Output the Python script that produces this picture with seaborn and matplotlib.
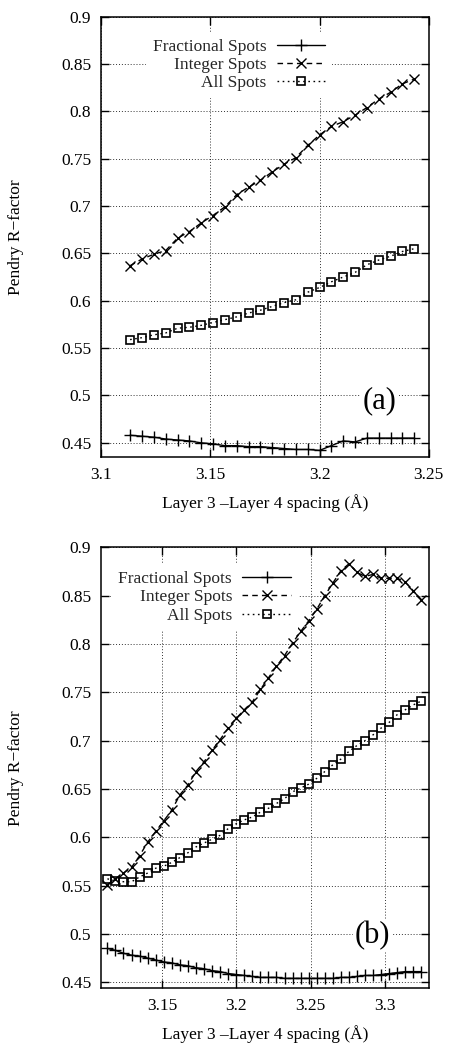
import numpy as np
import pandas as pd
import matplotlib
matplotlib.use('Agg')
import matplotlib.pyplot as plt
import seaborn as sns

# panel (a) data
x_a = [3.1133, 3.1187, 3.1241, 3.1296, 3.1350, 3.1404, 3.1458, 3.1512, 3.1566,
       3.1621, 3.1675, 3.1729, 3.1783, 3.1837, 3.1891, 3.1946, 3.2000, 3.2054,
       3.2108, 3.2163, 3.2217, 3.2271, 3.2325, 3.2379, 3.2434]
frac_a = [0.458, 0.457, 0.456, 0.454, 0.453, 0.452, 0.450, 0.449, 0.447, 0.447,
          0.446, 0.446, 0.445, 0.444, 0.443, 0.443, 0.442, 0.447, 0.452, 0.451,
          0.455, 0.455, 0.455, 0.455, 0.455]
int_a = [0.637, 0.644, 0.649, 0.653, 0.666, 0.673, 0.682, 0.690, 0.699, 0.712,
         0.720, 0.727, 0.736, 0.744, 0.751, 0.764, 0.775, 0.784, 0.789, 0.796,
         0.804, 0.813, 0.820, 0.829, 0.834]
all_a = [0.559, 0.561, 0.564, 0.566, 0.571, 0.572, 0.574, 0.577, 0.580, 0.583,
         0.587, 0.590, 0.594, 0.598, 0.601, 0.609, 0.614, 0.620, 0.625, 0.630,
         0.638, 0.643, 0.647, 0.652, 0.655]

# panel (b) data
x_b = [3.1133, 3.1187, 3.1241, 3.1296, 3.1350, 3.1404, 3.1458, 3.1512, 3.1566,
       3.1621, 3.1675, 3.1729, 3.1783, 3.1837, 3.1891, 3.1946, 3.2000, 3.2054,
       3.2108, 3.2163, 3.2217, 3.2271, 3.2325, 3.2379, 3.2434, 3.2488, 3.2542,
       3.2596, 3.2650, 3.2705, 3.2759, 3.2813, 3.2867, 3.2921, 3.2975, 3.3030,
       3.3084, 3.3138, 3.3192, 3.3246]
frac_b = [0.485, 0.483, 0.480, 0.478, 0.477, 0.475, 0.473, 0.471, 0.470, 0.468,
          0.467, 0.465, 0.464, 0.462, 0.461, 0.459, 0.458, 0.457, 0.456, 0.455,
          0.455, 0.455, 0.454, 0.454, 0.454, 0.454, 0.454, 0.454, 0.454, 0.455,
          0.455, 0.456, 0.457, 0.457, 0.458, 0.459, 0.460, 0.461, 0.461, 0.461]
int_b = [0.551, 0.557, 0.563, 0.569, 0.581, 0.595, 0.606, 0.617, 0.628, 0.644,
         0.654, 0.668, 0.678, 0.690, 0.701, 0.713, 0.723, 0.732, 0.740, 0.753,
         0.765, 0.777, 0.788, 0.801, 0.813, 0.824, 0.836, 0.850, 0.863, 0.876,
         0.883, 0.874, 0.870, 0.872, 0.868, 0.868, 0.868, 0.864, 0.855, 0.846]
all_b = [0.557, 0.555, 0.554, 0.554, 0.559, 0.563, 0.568, 0.570, 0.574, 0.579,
         0.584, 0.590, 0.594, 0.598, 0.602, 0.609, 0.614, 0.618, 0.621, 0.626,
         0.630, 0.635, 0.640, 0.647, 0.651, 0.655, 0.661, 0.668, 0.675, 0.681,
         0.689, 0.695, 0.700, 0.706, 0.713, 0.719, 0.727, 0.732, 0.737, 0.741]

labels = ['Fractional Spots', 'Integer Spots', 'All Spots']
yticks = [0.45, 0.5, 0.55, 0.6, 0.65, 0.7, 0.75, 0.8, 0.85, 0.9]

sns.set_theme(style='ticks')
plt.rcParams['font.family'] = ['Liberation Serif', 'DejaVu Serif']
plt.rcParams['axes.linewidth'] = 1.0

fs = 12.5

fig = plt.figure(figsize=(4.49, 10.43), dpi=100)
ax1 = fig.add_axes([0.225, 0.5618, 0.730, 0.4223])
ax2 = fig.add_axes([0.225, 0.0527, 0.730, 0.4225])


def draw_panel(ax, x, frac, integ, allsp, xlim, ylim, xticks, tag, leg_anchor, tag_pos):
    df = pd.DataFrame({'x': x, 'frac': frac, 'int': integ, 'all': allsp})
    sns.lineplot(data=df, x='x', y='frac', ax=ax, color='black', lw=1.0,
                 marker='+', ms=8, mew=1.0, mec='black', label=labels[0])
    sns.lineplot(data=df, x='x', y='int', ax=ax, color='black', lw=1.0,
                 linestyle=(0, (4, 3)), marker='x', ms=6.5, mew=1.0, mec='black',
                 label=labels[1])
    sns.lineplot(data=df, x='x', y='all', ax=ax, color='black', lw=1.0,
                 linestyle=(0, (1.2, 2.5)), marker='s', ms=6, mew=1.2,
                 mfc='none', mec='black', label=labels[2])
    ax.set_xlim(*xlim)
    ax.set_ylim(*ylim)
    ax.set_xticks(xticks)
    ax.set_xticklabels(['%g' % t for t in xticks])
    ax.set_yticks(yticks)
    ax.set_yticklabels(['%g' % t for t in yticks])
    ax.tick_params(direction='in', length=6, width=1, top=True, right=True,
                   labelsize=fs, pad=7, colors='black')
    ax.grid(True, color='black', linestyle=(0, (1, 2)), lw=0.7, alpha=0.8)
    ax.set_axisbelow(True)
    for sp in ax.spines.values():
        sp.set_color('black')
        sp.set_linewidth(1.1)
    ax.set_xlabel('Layer 3 \u2013Layer 4 spacing (\u00c5)', fontsize=fs, color='black')
    ax.set_ylabel('Pendry R\u2212factor', fontsize=fs, color='black')
    ax.xaxis.set_label_coords(0.5, -0.085)
    ax.yaxis.set_label_coords(-0.235, 0.5)
    leg = ax.legend(loc='upper right', bbox_to_anchor=leg_anchor, markerfirst=False,
                    fontsize=fs, frameon=True, fancybox=False, framealpha=1,
                    edgecolor='none', facecolor='white', handlelength=2.8,
                    handletextpad=0.6, labelspacing=0.12, borderpad=0.4,
                    borderaxespad=0)
    leg.set_zorder(3)
    ax.text(tag_pos[0], tag_pos[1], tag, transform=ax.transAxes, fontsize=22,
            ha='center', va='center', color='black',
            bbox=dict(facecolor='white', edgecolor='none', pad=1))


draw_panel(ax1, x_a, frac_a, int_a, all_a, (3.1, 3.25), (0.435, 0.9),
           [3.1, 3.15, 3.2, 3.25], '(a)', (0.706, 0.966), (0.85, 0.129))
draw_panel(ax2, x_b, frac_b, int_b, all_b, (3.109, 3.3296), (0.444, 0.9),
           [3.15, 3.2, 3.25, 3.3], '(b)', (0.601, 0.962), (0.828, 0.12))

fig.savefig('out.png', dpi=100)
